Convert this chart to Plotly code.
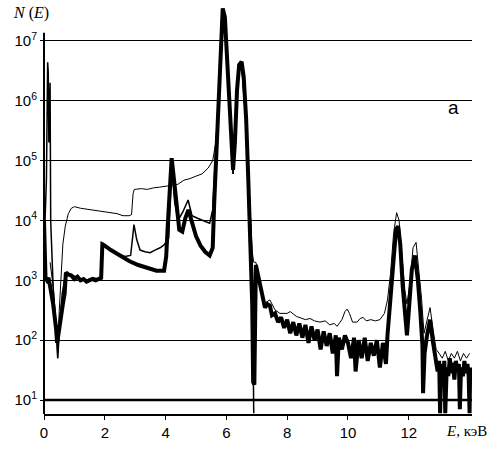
import plotly.graph_objects as go

# ---------------- data ----------------
# thick spectrum
E_thick = [0.00, 0.03, 0.05, 0.10, 0.15, 0.20, 0.30, 0.40, 0.43, 0.47, 0.55, 0.62, 0.68, 0.72,
           0.80, 0.90, 1.00, 1.10, 1.20, 1.30, 1.40, 1.50, 1.60, 1.70, 1.80, 1.88, 1.92, 2.00,
           2.20, 2.50, 2.80, 3.10, 3.40, 3.70, 3.95, 4.02, 4.08, 4.14, 4.20, 4.32, 4.45, 4.55,
           4.65, 4.75, 4.90, 5.00, 5.15, 5.30, 5.45, 5.55, 5.60, 5.68, 5.75, 5.82, 5.88, 5.95,
           6.02, 6.10, 6.17, 6.22, 6.28, 6.35, 6.42, 6.50, 6.57, 6.65, 6.72, 6.78, 6.85, 6.88,
           6.92, 6.97, 7.05, 7.10, 7.20, 7.27, 7.35, 7.43, 7.50, 7.60, 7.70, 7.80, 7.90, 8.00,
           8.10, 8.20, 8.30, 8.40, 8.50, 8.60, 8.70, 8.80, 8.90, 9.00, 9.10, 9.20, 9.30, 9.40,
           9.50, 9.60, 9.64, 9.70, 9.80, 9.90, 10.00, 10.10, 10.20, 10.25, 10.35, 10.45, 10.55,
           10.65, 10.75, 10.85, 10.95, 11.05, 11.15, 11.25, 11.30, 11.38, 11.45, 11.52, 11.58,
           11.65, 11.72, 11.80, 11.88, 11.94, 12.00, 12.10, 12.20, 12.30, 12.38, 12.45, 12.47,
           12.52, 12.60, 12.70, 12.80, 12.90, 12.95, 13.00, 13.03, 13.07, 13.12, 13.17, 13.20,
           13.25, 13.30, 13.35, 13.40, 13.45, 13.50, 13.55, 13.60, 13.65, 13.68, 13.72, 13.78,
           13.83, 13.88, 13.93, 13.97, 14.00, 14.02]
N_thick = [1.0e4, 2.5e3, 1.1e3, 1.0e3, 1.1e3, 8e2, 4e2, 1.5e2, 9e1, 1.2e2, 2.5e2, 4e2, 6e2, 1.35e3,
           1.25e3, 1.2e3, 1.05e3, 1.15e3, 1.0e3, 1.05e3, 9.5e2, 1.0e3, 1.05e3, 1.0e3, 1.05e3, 1.1e3, 4.0e3, 3.8e3,
           3.2e3, 2.6e3, 2.1e3, 1.8e3, 1.6e3, 1.45e3, 1.45e3, 2.5e3, 1.0e4, 4.5e4, 1.1e5, 3e4, 7e3, 6.5e3,
           1.1e4, 1.5e4, 8e3, 5.5e3, 3.8e3, 3.0e3, 2.6e3, 3.5e3, 2e4, 2e5, 1.5e6, 1e7, 3.5e7, 2.5e7,
           5e6, 8e5, 1.5e5, 7e4, 2e5, 1.5e6, 4.0e6, 4.5e6, 2.5e6, 5e5, 5e4, 5e3, 4e2, 2e1,
           1.8e1, 1.8e3, 1.2e3, 8e2, 5e2, 3.5e2, 4e2, 3.8e2, 2.6e2, 2.8e2, 2.0e2, 2.4e2, 1.6e2, 2.2e2,
           1.3e2, 2.0e2, 1.2e2, 1.9e2, 1.1e2, 1.8e2, 9e1, 1.7e2, 1.0e2, 1.5e2, 7e1, 1.4e2, 8e1, 1.3e2,
           6e1, 1.2e2, 2.5e1, 1.1e2, 7e1, 1.2e2, 9e1, 5e1, 1.1e2, 3e1, 1.0e2, 5e1, 1.1e2,
           4.5e1, 9e1, 5.5e1, 1.0e2, 3.5e1, 9e1, 4e1, 1.2e2, 4e2, 1.5e3, 4e3, 7e3,
           8e3, 4e3, 8e2, 2e2, 1.2e2, 3e2, 1.5e3, 2.6e3, 1.0e3, 3e2, 8e1, 1.3e1,
           6e1, 1.2e2, 2.2e2, 9e1, 4e1, 3e1, 4.5e1, 6, 4e1, 2.5e1, 4.5e1, 6,
           3.5e1, 2.5e1, 5e1, 2.8e1, 4.2e1, 2.2e1, 4.5e1, 3e1, 4e1, 7, 3.5e1, 2.5e1,
           4.5e1, 2.8e1, 4e1, 2.5e1, 6, 3.5e1]

# medium (thin noisy) spectrum
E_mid = [0.00, 0.04, 0.08, 0.12, 0.14, 0.16, 0.18, 0.20, 0.22, 0.26, 0.30, 0.35, 0.40, 0.45,
         0.50, 0.55, 0.60, 0.70, 0.80, 1.00, 1.20, 1.40, 1.60, 1.80, 1.90, 1.93, 2.00, 2.33,
         2.66, 2.85, 2.96, 3.05, 3.16, 3.32, 3.49, 3.65, 3.82, 3.95, 4.10, 4.20, 4.30, 4.41,
         4.57, 4.74, 4.87, 5.03, 5.20, 5.33, 5.45, 5.55, 5.65, 5.75, 5.85, 5.95, 6.10, 6.22,
         6.40, 6.50, 6.65, 6.75, 6.85, 6.90]
N_mid = [3e3, 1e4, 5e4, 4.4e6, 3e6, 2e5, 2e6, 2e6, 1e4, 2e3, 8e2, 3e2, 1.5e2, 5e1,
         1.5e2, 3e2, 6e2, 1.2e3, 1.3e3, 1.15e3, 1.05e3, 1.0e3, 1.1e3, 1.05e3, 1.2e3, 4.2e3, 3.8e3, 2.9e3,
         2.5e3, 2.6e3, 8.5e3, 4.8e3, 3.2e3, 3.0e3, 2.9e3, 3.2e3, 3.5e3, 3.9e3, 5e3, 8e4, 2e4, 1.0e4,
         1.4e4, 2.2e4, 1.2e4, 1.1e4, 1.0e4, 9.5e3, 9e3, 1.5e4, 1.5e5, 1.3e6, 2.5e7, 2e7, 7e5, 6e4,
         3e6, 4e6, 4e5, 3e4, 2e3, 6]

# thin upper spectrum
E_thin = [0.20, 0.30, 0.40, 0.45, 0.50, 0.55, 0.62, 0.70, 0.80, 0.90, 1.00, 1.20, 1.40, 1.60,
          1.80, 2.00, 2.20, 2.40, 2.60, 2.80, 2.88, 2.93, 2.97, 3.20, 3.40, 3.60, 3.80, 4.00,
          4.20, 4.40, 4.60, 4.80, 5.00, 5.20, 5.40, 5.55, 5.65, 5.75, 5.85, 5.95, 6.10, 6.22,
          6.40, 6.50, 6.65, 6.75, 6.85, 6.90, 6.97, 7.05, 7.10, 7.27, 7.43, 7.60, 7.76, 8.00,
          8.10, 8.30, 8.42, 8.60, 8.75, 8.90, 9.08, 9.25, 9.40, 9.55, 9.64, 9.80, 9.90, 9.97,
          10.05, 10.15, 10.30, 10.40, 10.50, 10.60, 10.75, 10.90, 11.05, 11.20, 11.30, 11.40,
          11.50, 11.60, 11.68, 11.76, 11.87, 11.94, 12.04, 12.14, 12.24, 12.34, 12.42, 12.50,
          12.58, 12.70, 12.80, 12.90, 13.00, 13.10, 13.20, 13.30, 13.40, 13.50, 13.60, 13.70,
          13.80, 13.90, 14.00]
N_thin = [2e3, 8e2, 2e2, 5e1, 3e2, 1e3, 4e3, 8e3, 1.3e4, 1.6e4, 1.7e4, 1.6e4, 1.55e4, 1.5e4,
          1.45e4, 1.4e4, 1.35e4, 1.3e4, 1.2e4, 1.2e4, 1.25e4, 2.8e4, 3.3e4, 3.4e4, 3.3e4, 3.5e4, 3.6e4, 3.7e4,
          3.9e4, 4.0e4, 4.7e4, 5.0e4, 5.5e4, 6e4, 7.5e4, 1.0e5, 2e5, 1.2e6, 2e7, 2e7, 7e5, 6e4,
          3e6, 4e6, 4e5, 3e4, 3e3, 2e3, 2e3, 1.3e3, 9e2, 4.2e2, 4.7e2, 3.2e2, 2.8e2, 2.8e2,
          3e2, 2.5e2, 2.4e2, 2.2e2, 2.3e2, 2.1e2, 2.0e2, 2.1e2, 1.8e2, 1.9e2, 1.7e2, 2.2e2, 3.0e2, 3.3e2,
          2.8e2, 2.0e2, 2.0e2, 2.3e2, 2.4e2, 2.1e2, 2.2e2, 2.1e2, 2.2e2, 2.8e2, 4.7e2, 1.3e3,
          6e3, 1.35e4, 1.0e4, 3.2e3, 7e2, 4e2, 9e2, 3.5e3, 4.3e3, 1.3e3, 5e2, 1.3e2,
          2e2, 3.5e2, 1.5e2, 7e1, 6e1, 5e1, 6.5e1, 4.5e1, 6e1, 5e1, 6.5e1, 4.5e1,
          6e1, 5e1, 6e1]

x_ticks = [0, 2, 4, 6, 8, 10, 12]
y_ticks = [1e1, 1e2, 1e3, 1e4, 1e5, 1e6, 1e7]
y_ticktext = ["10<sup>1</sup>", "10<sup>2</sup>", "10<sup>3</sup>", "10<sup>4</sup>",
              "10<sup>5</sup>", "10<sup>6</sup>", "10<sup>7</sup>"]

# ---------------- figure ----------------
X_MAX = 14.08
Y_LOG_RANGE = [0.766, 7.6]
AXIS_TOP_LOG = 7.137

fig = go.Figure()
fig.add_trace(go.Scatter(x=E_thin, y=N_thin, mode="lines",
                         line=dict(color="black", width=1), hoverinfo="skip"))
fig.add_trace(go.Scatter(x=E_mid, y=N_mid, mode="lines",
                         line=dict(color="black", width=1.5), hoverinfo="skip"))
fig.add_trace(go.Scatter(x=E_thick, y=N_thick, mode="lines",
                         line=dict(color="black", width=4), hoverinfo="skip"))

span = Y_LOG_RANGE[1] - Y_LOG_RANGE[0]
shapes = [
    # y axis line (only up to just above 10^7)
    dict(type="line", xref="paper", yref="paper", x0=0, x1=0,
         y0=0, y1=(AXIS_TOP_LOG - Y_LOG_RANGE[0]) / span,
         line=dict(color="black", width=2)),
    # thicker 10^1 line
    dict(type="line", xref="paper", yref="paper", x0=0, x1=1,
         y0=(1 - Y_LOG_RANGE[0]) / span, y1=(1 - Y_LOG_RANGE[0]) / span,
         line=dict(color="black", width=2.5)),
]

fig.update_layout(
    width=490, height=458,
    margin=dict(l=44, r=18, t=5, b=44),
    paper_bgcolor="white", plot_bgcolor="white",
    showlegend=False,
    hovermode=False,
    shapes=shapes,
    xaxis=dict(range=[0, X_MAX], tickvals=x_ticks, showgrid=False, zeroline=False,
               automargin=False,
               showline=True, linecolor="black", linewidth=2,
               ticks="outside", ticklen=4, tickwidth=1, tickcolor="black",
               tickfont=dict(family="Liberation Sans", size=15, color="black")),
    yaxis=dict(type="log", range=Y_LOG_RANGE, tickvals=y_ticks, ticktext=y_ticktext,
               automargin=False,
               showgrid=True, gridcolor="black", gridwidth=1, zeroline=False,
               showline=False, ticks="outside", ticklen=3, tickwidth=1, tickcolor="black",
               tickfont=dict(family="Liberation Sans", size=15, color="black")),
    annotations=[
        dict(text="<i>N</i> (<i>E</i>)", xref="paper", yref="paper",
             x=(11 - 44) / 428, y=(414 - 13) / 409, xanchor="left", yanchor="middle",
             showarrow=False, font=dict(family="Liberation Serif", size=16, color="black")),
        dict(text="<i>E</i>, кэВ", xref="paper", yref="paper",
             x=(489 - 44) / 428, y=(414 - 431) / 409, xanchor="right", yanchor="middle",
             showarrow=False, font=dict(family="Liberation Serif", size=15, color="black")),
        dict(text="а", xref="paper", yref="paper",
             x=(453 - 44) / 428, y=(414 - 107) / 409, xanchor="center", yanchor="middle",
             showarrow=False, font=dict(family="Liberation Sans", size=19, color="black")),
    ],
)

fig.write_html("out.html", config={"displayModeBar": False, "staticPlot": True},
               post_script="document.body.style.margin='0';document.body.style.padding='0';")
